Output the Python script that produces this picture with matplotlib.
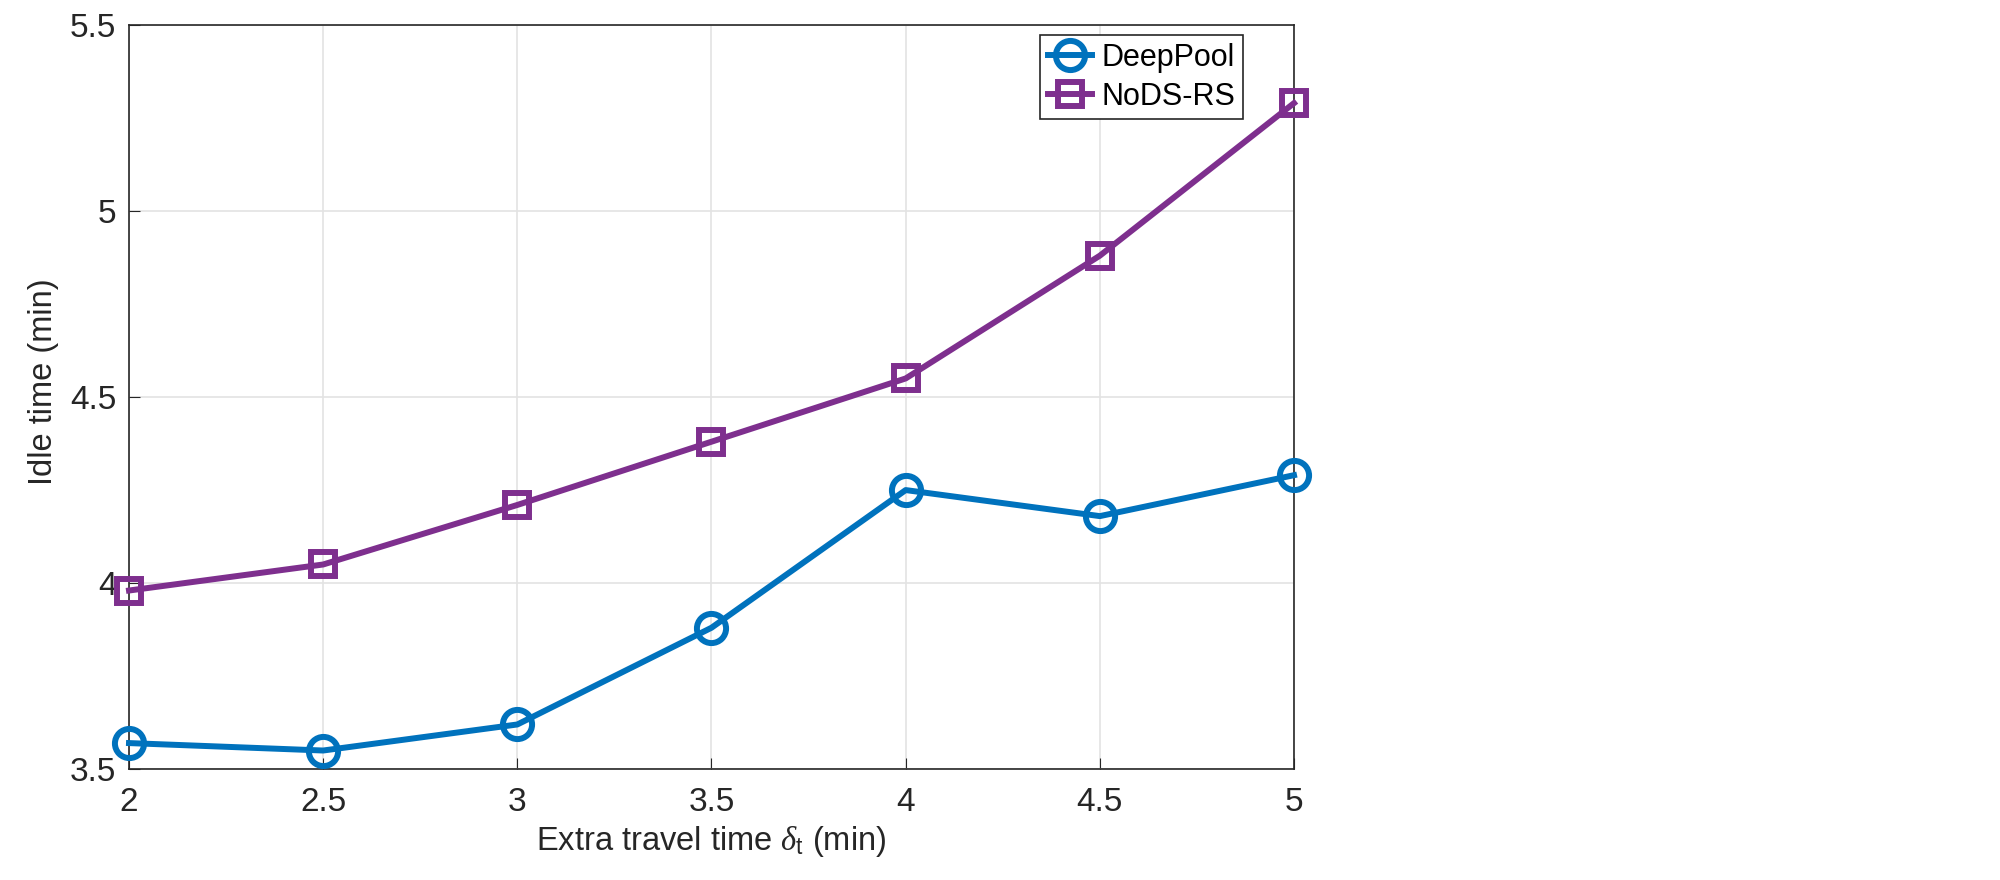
import matplotlib.pyplot as plt

plt.rcParams['font.family'] = ['Liberation Sans', 'DejaVu Sans']
plt.rcParams['mathtext.fontset'] = 'custom'
plt.rcParams['mathtext.rm'] = 'Liberation Sans'
plt.rcParams['mathtext.it'] = 'Liberation Serif:italic'

# data
extra_time = [2, 2.5, 3, 3.5, 4, 4.5, 5]
deeppool = [3.57, 3.55, 3.62, 3.88, 4.25, 4.18, 4.29]
nods_rs = [3.98, 4.05, 4.21, 4.38, 4.55, 4.88, 5.29]
x_ticks = [2, 2.5, 3, 3.5, 4, 4.5, 5]
x_labels = ['2', '2.5', '3', '3.5', '4', '4.5', '5']
y_ticks = [3.5, 4, 4.5, 5, 5.5]
y_labels = ['3.5', '4', '4.5', '5', '5.5']

fig = plt.figure(figsize=(20, 8.8), dpi=100)
ax = fig.add_axes([0.0645, 0.126, 0.5825, 0.8456])

ax.plot(extra_time, deeppool, color='#0072BD', linewidth=4.3, marker='o',
        markersize=21, markerfacecolor='none', markeredgewidth=4.3,
        label='DeepPool', clip_on=False, zorder=3)
ax.plot(extra_time, nods_rs, color='#7E2F8E', linewidth=4.3, marker='s',
        markersize=17.5, markerfacecolor='none', markeredgewidth=4.3,
        label='NoDS-RS', clip_on=False, zorder=3)

ax.set_xlim(2, 5)
ax.set_ylim(3.5, 5.5)
ax.set_xticks(x_ticks)
ax.set_xticklabels(x_labels)
ax.set_yticks(y_ticks)
ax.set_yticklabels(y_labels)
ax.tick_params(direction='in', length=8, labelsize=24, colors='#262626')
ax.tick_params(axis='x', pad=13)
ax.tick_params(axis='y', pad=9)
ax.grid(True, color='#e3e3e3', linewidth=1.2)
ax.set_axisbelow(True)
for s in ax.spines.values():
    s.set_color('#262626')
    s.set_linewidth(1.2)

ax.set_xlabel(r'Extra travel time $\delta_{\mathrm{t}}$ (min)', fontsize=23.5,
              color='#262626', labelpad=4)
ax.set_ylabel('Idle time (min)', fontsize=23.5, color='#262626')
ax.yaxis.set_label_coords(-0.060, 0.52)

leg = ax.legend(loc='upper right', bbox_to_anchor=(0.956, 0.9866), borderaxespad=0,
                fontsize=22, fancybox=False, edgecolor='#262626', framealpha=1,
                handlelength=1.45, borderpad=0.25, labelspacing=0.3,
                handletextpad=0.3, labelcolor='black')
leg.get_frame().set_linewidth(1.2)

fig.savefig('out.png', dpi=100)
